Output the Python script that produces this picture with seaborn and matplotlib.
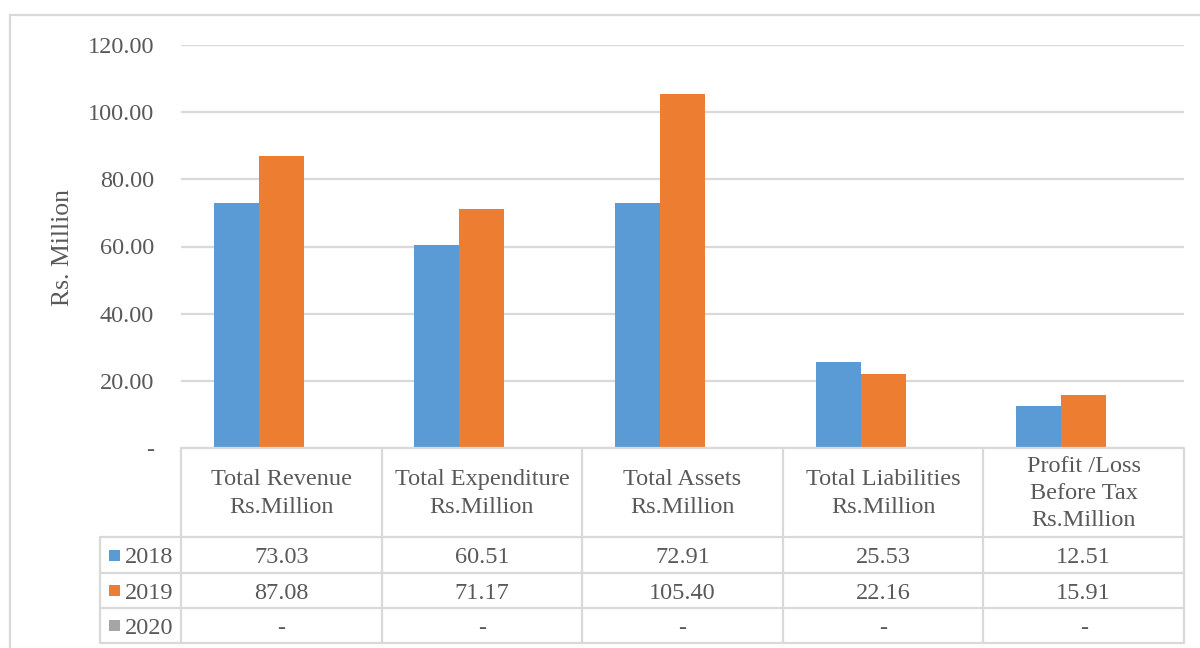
import numpy as np
import pandas as pd
import seaborn as sns
import matplotlib.pyplot as plt
from matplotlib.lines import Line2D
from matplotlib.patches import Rectangle
from matplotlib.ticker import FuncFormatter

# ---- data ----
categories = [
    "Total Revenue\nRs.Million",
    "Total Expenditure\nRs.Million",
    "Total Assets\nRs.Million",
    "Total Liabilities\nRs.Million",
    "Profit /Loss\nBefore Tax\nRs.Million",
]
years = ["2018", "2019", "2020"]
values_2018 = [73.03, 60.51, 72.91, 25.53, 12.51]
values_2019 = [87.08, 71.17, 105.40, 22.16, 15.91]
values_2020 = [np.nan, np.nan, np.nan, np.nan, np.nan]
colors = ["#5B9BD5", "#ED7D31", "#A5A5A5"]
yticks = [0, 20, 40, 60, 80, 100, 120]

series = {"2018": values_2018, "2019": values_2019, "2020": values_2020}
df = pd.DataFrame(
    [(c, y, v) for y in years for c, v in zip(categories, series[y])],
    columns=["category", "year", "value"],
)

# ---- style ----
sns.set_style("white")
plt.rcParams["font.family"] = ["Liberation Serif", "DejaVu Serif"]
TXT = "#595959"
GRID = "#D9D9D9"
FS = 17.5

W, H = 1200, 648
fig = plt.figure(figsize=(W / 100, H / 100), dpi=100)
ax_left, ax_right, ax_top, ax_bottom = 181, 1184, 45, 448
ax = fig.add_axes([ax_left / W, 1 - ax_bottom / H,
                   (ax_right - ax_left) / W, (ax_bottom - ax_top) / H])

sns.barplot(data=df, x="category", y="value", hue="year", hue_order=years,
            order=categories, palette=colors, width=0.672, saturation=1,
            linewidth=0, errorbar=None, legend=False, ax=ax, zorder=3)

ax.set_xlim(-0.5, len(categories) - 0.5)
ax.set_ylim(0, 120)
ax.set_yticks(yticks)
ax.yaxis.set_major_formatter(FuncFormatter(lambda v, p: "-" if v == 0 else f"{v:.2f}"))
ax.tick_params(axis="y", length=0, pad=19.5, labelsize=FS, labelcolor=TXT)
ax.set_xticks([])
ax.set_xlabel("")
ax.set_ylabel("")
ax.grid(axis="y", color=GRID, linewidth=1.6, zorder=0)
ax.set_axisbelow(True)
for s in ax.spines.values():
    s.set_visible(False)

fig.text(63 / W, 1 - 247 / H, "Rs. Million", rotation=90, ha="center",
         va="center", fontsize=18.5, color=TXT)


# ---- data table below the plot ----
def fy(y):
    return 1 - y / H


def line(x0, y0, x1, y1):
    fig.add_artist(Line2D([x0 / W, x1 / W], [fy(y0), fy(y1)], color=GRID,
                          linewidth=1.6, transform=fig.transFigure))


fig.canvas.draw()
bounds = [ax.transData.transform((i - 0.5, 0))[0] for i in range(len(categories) + 1)]
centers = [ax.transData.transform((i, 0))[0] for i in range(len(categories))]

header_top, header_bot = 448, 537
row_edges = [537, 573, 608, 643]
legend_left = 100

line(bounds[0], header_top, bounds[-1], header_top)
for y in row_edges:
    line(legend_left, y, bounds[-1], y)
for xb in bounds:
    line(xb, header_top, xb, row_edges[-1])
line(legend_left, row_edges[0], legend_left, row_edges[-1])

for cx, cat in zip(centers, categories):
    fig.text(cx / W, fy((header_top + header_bot) / 2 + 1), cat, ha="center",
             va="center", fontsize=FS, color=TXT, linespacing=1.4)

for r, (yr, col) in enumerate(zip(years, colors)):
    yc = (row_edges[r] + row_edges[r + 1]) / 2
    fig.add_artist(Rectangle((109 / W, fy(yc + 5.5)), 11 / W, 11 / H,
                             facecolor=col, edgecolor="none",
                             transform=fig.transFigure))
    fig.text(125 / W, fy(yc + 8.3), yr, ha="left", va="baseline",
             fontsize=FS, color=TXT)
    for cx, v in zip(centers, series[yr]):
        label = "-" if np.isnan(v) else f"{v:.2f}"
        fig.text(cx / W, fy(yc + 8.3), label, ha="center", va="baseline",
                 fontsize=FS, color=TXT)

# outer chart frame
line(10, 15, W, 15)
line(10, 15, 10, H)

fig.savefig("out.png", dpi=100)
